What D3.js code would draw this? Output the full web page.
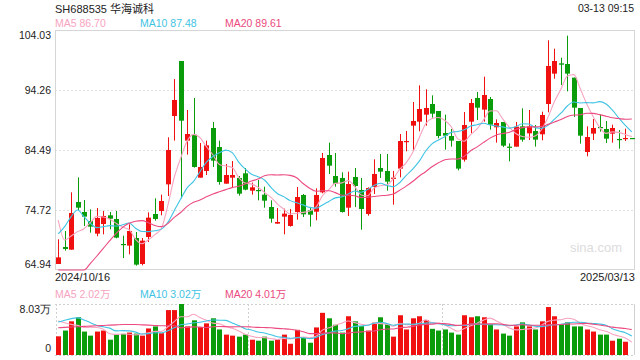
<!DOCTYPE html>
<html><head><meta charset="utf-8">
<script src="https://cdn.jsdelivr.net/npm/d3@7"></script>
<style>body{margin:0;background:#fff}svg{display:block;font-family:"Liberation Sans",Arial,"Noto Sans CJK SC",sans-serif}</style>
</head><body><svg id="c" width="640" height="360"></svg>
<script>
const title = "SH688535 华海诚科";
const timeLabel = "03-13 09:15";
const dateLabels = ["2024/10/16", "2025/03/13"];
const yTicks = [64.94, 74.72, 84.49, 94.26, 104.03];
const volMax = 8.03;
const priceMALegend = [86.70, 87.48, 89.61];
const volMALegend = [2.02, 3.02, 4.01];

const opens = [65.92,68.69,68.25,76.02,74.39,72.92,70.86,72.43,73.85,73.25,
69.18,68.91,70.15,65.92,70.32,74.06,74.55,78.89,90.02,98.98,
86.01,86.98,79.98,81.07,88.07,84.97,79.00,79.98,79.93,80.69,
77.86,77.97,77.21,75.20,72.49,73.63,72.11,74.39,77.16,74.66,
74.44,77.59,83.67,80.25,79.93,75.09,80.09,77.97,74.06,78.46,
81.55,81.07,79.87,81.45,85.84,88.45,89.10,90.24,91.98,90.84,
87.25,86.77,85.95,82.91,89.10,92.96,91.06,92.79,88.18,89.05,
85.03,85.03,88.34,87.20,87.58,87.04,91.98,96.92,98.60,98.49,
96.27,91.33,84.16,87.15,88.23,87.91,87.15,86.28,86.33,86.44];
const highs = [69.94,71.29,77.59,80.03,76.34,74.82,75.04,74.55,74.39,74.55,
70.53,72.38,71.13,70.15,74.33,76.61,77.21,86.55,96.05,98.98,
91.00,92.96,85.63,86.01,89.05,86.01,82.21,82.69,80.25,81.55,
79.17,79.60,78.51,76.29,75.04,74.93,74.88,78.46,77.32,75.04,
78.24,84.00,85.68,84.00,80.85,80.96,81.55,79.93,78.41,82.97,
83.83,83.83,81.07,87.09,87.58,92.30,95.02,94.37,93.39,90.84,
90.24,87.91,85.95,90.68,92.79,93.93,96.43,93.12,89.48,89.05,
85.57,89.05,91.27,91.00,88.56,90.73,102.35,100.99,99.52,103.11,
96.27,91.33,88.34,89.53,90.24,89.21,88.61,87.74,87.96,86.44];
const lows = [65.92,68.09,68.25,74.71,72.11,71.02,70.43,70.75,71.57,70.10,
66.90,67.49,65.65,65.70,69.50,72.98,73.85,76.99,86.01,76.61,
83.73,81.61,79.98,80.41,81.72,78.84,79.00,78.46,77.05,77.92,
77.21,76.29,75.09,72.65,72.49,70.75,72.00,73.14,73.57,72.00,
73.03,77.43,80.58,78.51,74.28,73.74,75.20,71.51,73.79,77.32,
79.93,77.86,75.58,80.03,84.27,84.38,87.53,88.45,89.75,86.39,
84.54,85.03,81.17,82.59,87.25,89.37,89.10,87.80,85.68,84.97,
82.64,85.03,85.84,86.11,85.03,86.06,90.62,96.10,95.07,94.04,
89.86,85.52,83.45,86.11,87.47,85.63,85.68,84.70,85.95,86.33];
const closes = [67.00,68.36,74.23,75.09,73.63,72.00,73.41,73.74,73.30,70.21,
69.01,71.29,65.81,69.72,73.47,73.25,76.18,84.49,92.63,89.26,
87.09,81.72,81.72,85.25,82.75,79.27,80.41,80.41,77.37,78.03,
78.41,77.86,76.23,73.30,72.76,74.12,73.90,76.83,74.01,73.95,
77.16,83.18,81.93,79.00,74.39,78.95,78.62,74.88,78.30,80.58,
80.96,79.33,79.98,85.95,85.95,89.21,91.16,91.33,90.40,86.77,
86.82,86.01,81.45,88.56,92.14,91.38,93.44,88.61,88.88,85.19,
84.87,88.29,86.17,88.34,86.17,90.19,98.17,98.98,98.38,96.92,
91.38,86.82,86.60,88.07,88.12,86.33,88.07,86.17,86.44,86.33];
// volume in 万
const volumes = [2.94,3.85,5.30,5.94,3.69,3.05,3.69,3.85,2.41,3.21,
3.32,3.53,3.37,3.05,4.18,4.50,3.43,7.07,7.07,8.03,
4.50,5.46,4.39,4.98,5.78,4.02,3.21,3.05,2.89,3.21,
2.41,2.25,2.89,2.25,2.46,3.21,1.77,3.96,2.73,1.93,
4.34,6.64,5.78,4.76,3.53,6.10,5.30,4.55,3.85,5.09,
5.94,4.82,2.89,6.26,4.02,5.78,6.10,5.51,4.12,3.85,
4.02,3.53,3.21,6.26,5.94,6.10,5.94,4.82,4.02,3.37,
3.05,4.50,5.14,4.50,4.02,5.30,7.55,6.10,4.82,5.14,
4.50,4.50,4.02,3.69,3.21,3.21,2.25,2.57,2.09,0];

// moving-average values before enough in-view history exists
const ma5Head = [73.08,69.83,70.48,71.19];
const ma10Head = [70.81,72.00,73.63,74.71,73.63,72.54,71.84,72.00,72.16];
const ma20Head = [64.5,64.5,64.5,64.5,64.9,66.03,67.22,68.47,69.72,70.91,71.89,72.54,72.87,72.98,72.65,72.20,72.00,72.50,73.50];
const vma5Head = [5.35,5.08,4.82,4.66];
const vma10Head = [5.19,5.46,5.73,5.84,5.51,5.09,4.66,4.44,4.23];
const vma20Head = [4.29,4.35,4.40,4.45,4.50,4.55,4.60,4.65,4.70,4.75,4.80,4.80,4.80,4.75,4.70,4.65,4.60,4.60,4.60];

const maNames = ["MA5","MA10","MA20"];
const maColors = ["#f7a3c0","#3fc3e3","#ec4a80"];

function ma(vals, n, head){
  return vals.map((v,i)=> i < n-1 ? head[i] : d3.mean(vals.slice(i-n+1,i+1)));
}

const svg = d3.select("#c");
const L = 55, R = 635, T = 30, B = 270, VT = 304, VB = 355;
const n = closes.length;
const idx = d3.range(n);
const x = d3.scaleBand().domain(idx).range([L,R]).paddingInner(0.3).paddingOuter(0.15);
const cx = i => x(i) + x.bandwidth()/2;
const y = d3.scaleLinear().domain([yTicks[0], yTicks[yTicks.length-1]]).range([B,T]);
const yc = d3.scaleLinear().domain(y.domain()).range(y.range()).clamp(true);
const yv = d3.scaleLinear().domain([0, volMax]).range([VB, VT]);
const up = i => closes[i] >= opens[i];
const RED = "#f01010", GREEN = "#0a9c0a";

// title and time
svg.append("text").attr("x",L).attr("y",13).attr("font-size",11).attr("fill","#222").text(title);
svg.append("text").attr("x",R-1).attr("y",12).attr("text-anchor","end").attr("font-size",10.5).attr("fill","#222").text(timeLabel);

// legend
const priceMA = [ma(closes,5,ma5Head), ma(closes,10,ma10Head), ma(closes,20,ma20Head)];
const volMA = [ma(volumes,5,vma5Head), ma(volumes,10,vma10Head), ma(volumes,20,vma20Head)];
const legX = [L, 140, 225];
maNames.forEach((nm,k)=>{
  svg.append("text").attr("x",legX[k]).attr("y",27).attr("font-size",10.5).attr("fill",maColors[k])
    .text(nm+" "+d3.format(".2f")(priceMALegend[k]));
  svg.append("text").attr("x",legX[k]).attr("y",298).attr("font-size",10.5).attr("fill",maColors[k])
    .text(nm+" "+d3.format(".2f")(volMALegend[k])+"万");
});

// grid
svg.append("g").selectAll("line").data(yTicks.slice(1,-1)).join("line")
  .attr("x1",L).attr("x2",R).attr("y1",d=>Math.round(y(d))+0.5).attr("y2",d=>Math.round(y(d))+0.5)
  .attr("stroke","#e0e0e0").attr("stroke-dasharray","2,2");
svg.append("rect").attr("x",L+0.5).attr("y",T+0.5).attr("width",R-L-1).attr("height",B-T-1)
  .attr("fill","none").attr("stroke","#d6d6d6");

// y axis
const ya = svg.append("g").attr("transform",`translate(${L},0)`)
  .call(d3.axisLeft(y).tickValues(yTicks).tickSize(0).tickPadding(4).tickFormat(d3.format(".2f")));
ya.select(".domain").remove();
ya.selectAll("text").attr("font-size",10.5).attr("fill","#222").attr("font-family",null)
  .attr("dy",(d,i)=> i===0 ? "-0.25em" : (i===yTicks.length-1 ? "0.85em" : "0.32em"));

// watermark
svg.append("text").attr("x",622).attr("y",252).attr("text-anchor","end").attr("font-size",13).attr("fill","#dcdcdc").text("sina.com");

// candles
const cg = svg.append("g");
cg.selectAll("line").data(idx).join("line")
  .attr("x1",i=>Math.round(cx(i))+0.5).attr("x2",i=>Math.round(cx(i))+0.5)
  .attr("y1",i=>y(highs[i])).attr("y2",i=>y(lows[i]))
  .attr("stroke",i=>up(i)?RED:GREEN);
cg.selectAll("rect").data(idx).join("rect")
  .attr("x",i=>Math.round(cx(i))-2).attr("width",5)
  .attr("y",i=>y(Math.max(opens[i],closes[i])))
  .attr("height",i=>Math.max(1.2, Math.abs(y(opens[i])-y(closes[i]))))
  .attr("fill",i=>up(i)?RED:GREEN);

// price MA lines
const lineP = d3.line().x((d,i)=>cx(i)).y(d=>yc(d)).curve(d3.curveMonotoneX);
priceMA.forEach((arr,k)=>{
  svg.append("path").datum(arr).attr("d",lineP).attr("fill","none").attr("stroke",maColors[k]).attr("stroke-width",1.1);
});

// date labels
svg.append("text").attr("x",L).attr("y",281).attr("font-size",11).attr("fill","#222").text(dateLabels[0]);
svg.append("text").attr("x",R).attr("y",281).attr("text-anchor","end").attr("font-size",11).attr("fill","#222").text(dateLabels[1]);

// volume panel frame
const vf = svg.append("g").attr("stroke","#d0d0d0").attr("stroke-dasharray","2,2");
vf.append("line").attr("x1",L).attr("x2",R).attr("y1",VT+0.5).attr("y2",VT+0.5);
vf.append("line").attr("x1",L).attr("x2",R).attr("y1",VB+0.5).attr("y2",VB+0.5);
[L+0.5, L+(R-L)/3, L+2*(R-L)/3].forEach(xx=>vf.append("line").attr("x1",Math.round(xx)+0.5).attr("x2",Math.round(xx)+0.5).attr("y1",VT).attr("y2",VB));
svg.append("line").attr("x1",R-0.5).attr("x2",R-0.5).attr("y1",VT).attr("y2",VB).attr("stroke","#d0d0d0");

const va = svg.append("g").attr("transform",`translate(${L},0)`)
  .call(d3.axisLeft(yv).tickValues([0, volMax]).tickSize(0).tickPadding(4).tickFormat(d=> d===0 ? "0" : d3.format(".2f")(d)+"万"));
va.select(".domain").remove();
va.selectAll("text").attr("font-size",10.5).attr("fill","#222").attr("font-family",null)
  .attr("dy",(d,i)=> i===0 ? "-0.3em" : "0.85em");

// volume bars
svg.append("g").selectAll("rect").data(idx).join("rect")
  .attr("x",i=>Math.round(cx(i))-2).attr("width",5)
  .attr("y",i=>yv(volumes[i])).attr("height",i=>VB-yv(volumes[i]))
  .attr("fill",i=>up(i)?RED:GREEN);

const lineV = d3.line().x((d,i)=>cx(i)).y(d=>yv(d)).curve(d3.curveMonotoneX);
volMA.forEach((arr,k)=>{
  svg.append("path").datum(arr).attr("d",lineV).attr("fill","none").attr("stroke",maColors[k]).attr("stroke-width",1.1);
});
</script></body></html>
